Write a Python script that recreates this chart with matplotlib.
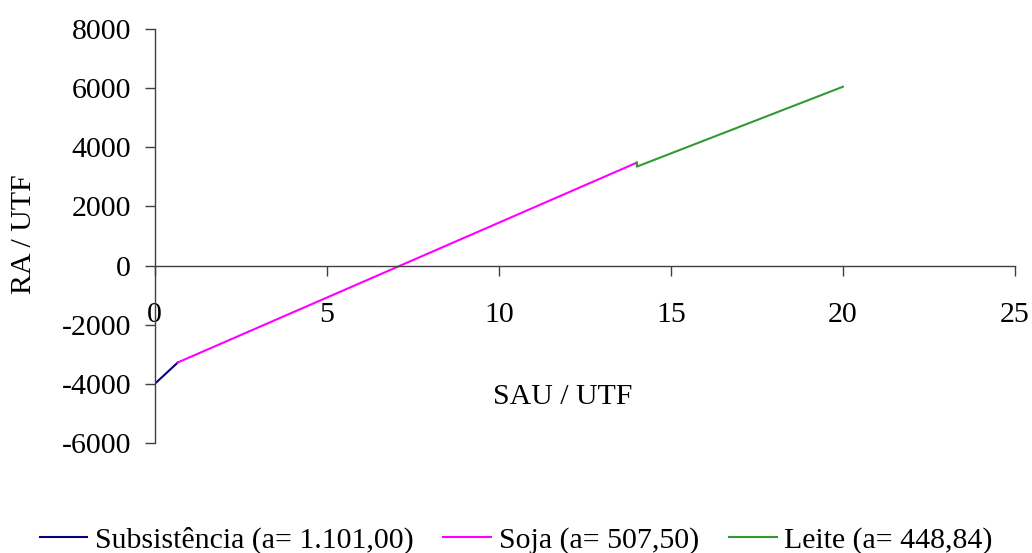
import matplotlib
matplotlib.use("Agg")
import matplotlib.pyplot as plt

plt.rcParams['font.family'] = ['Liberation Serif', 'DejaVu Serif']

# Data
subs_x = [0.0, 0.67]
subs_y = [-4000, -3277]
soja_x = [0.67, 14.01]
soja_y = [-3277, 3480]
leite_x = [14.01, 14.01, 20.0]
leite_y = [3480, 3345, 6047]

labels = ["Subsistência (a= 1.101,00)", "Soja (a= 507,50)", "Leite (a= 448,84)"]
colors = ["#000080", "#FF00FF", "#339933"]

xticks = [0, 5, 10, 15, 20, 25]
yticks = [-6000, -4000, -2000, 0, 2000, 4000, 6000, 8000]

FS = 21.5

fig = plt.figure(figsize=(10.32, 5.53), dpi=100)
ax = fig.add_axes([0.150, 0.199, 0.8335, 0.7486])

l1, = ax.plot(subs_x, subs_y, color=colors[0], lw=1.5, label=labels[0])
l2, = ax.plot(soja_x, soja_y, color=colors[1], lw=1.5, label=labels[1])
l3, = ax.plot(leite_x, leite_y, color=colors[2], lw=1.5, label=labels[2])

ax.set_xlim(0, 25)
ax.set_ylim(-6000, 8000)
ax.set_xticks(xticks)
ax.set_yticks(yticks)
ax.set_xticklabels([str(v) for v in xticks])
ax.set_yticklabels([str(v) for v in yticks])

for s in ['top', 'right']:
    ax.spines[s].set_visible(False)
ax.spines['bottom'].set_position(('data', 0))
ax.spines['bottom'].set_color('#404040')
ax.spines['left'].set_color('#404040')
ax.spines['bottom'].set_linewidth(1.0)
ax.spines['left'].set_linewidth(1.0)

ax.tick_params(axis='x', direction='out', length=7, width=1.0, color='#404040',
               pad=19, labelsize=FS)
ax.tick_params(axis='y', direction='out', length=7, width=1.0, color='#404040',
               pad=10, labelsize=FS)

fig.text(24 / 1032, 1 - 234 / 553, "RA / UTF", fontsize=FS, rotation=90,
         ha='center', va='center')
fig.text(563 / 1032, 1 - 397 / 553, "SAU / UTF", fontsize=FS, ha='center', va='center')

fig.legend(handles=[l1, l2, l3], labels=labels, loc='center', ncol=3,
           bbox_to_anchor=(0.5, 1 - 540 / 553), frameon=False, fontsize=21.5,
           handlelength=1.6, handletextpad=0.25, columnspacing=1.0,
           borderpad=0, borderaxespad=0)

fig.savefig("out.png", dpi=100)
